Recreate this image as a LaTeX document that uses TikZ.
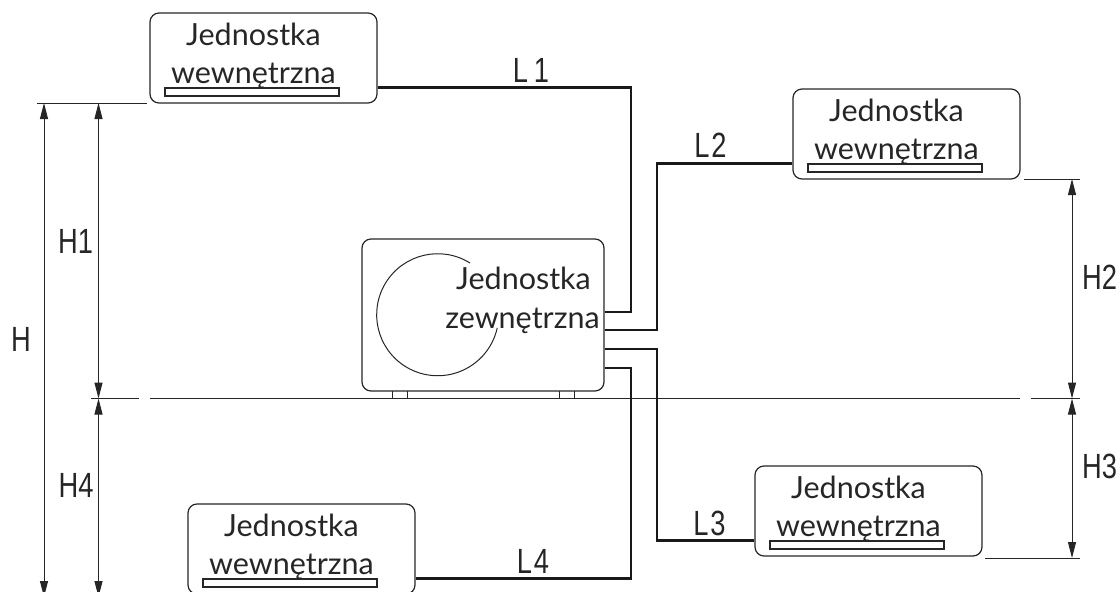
\documentclass[tikz,border=0pt]{standalone}
\usepackage{fontspec}
\usetikzlibrary{arrows.meta}
\setmainfont{Lato}
\newfontfamily\dimfont[FakeStretch=0.78]{Liberation Sans}
\tikzset{
  unitbox/.style={draw=black!85,line width=1.2pt,rounded corners=9pt,inner sep=0pt},
  panbox/.style={draw=black!85,line width=1.1pt,inner sep=0pt,minimum width=174pt,minimum height=8pt},
  unitlabel/.style={anchor=base,inner sep=0pt,font=\fontsize{30.5}{31}\selectfont,text=black!85},
  dimlabel/.style={anchor=base,inner sep=0pt,font=\dimfont\fontsize{35}{35}\selectfont,text=black!85},
  pipe/.style={line width=2.4pt,black!90},
  thinline/.style={line width=1pt,black!85},
  dimline/.style={thinline,{Triangle[length=16pt,width=8pt]}-{Triangle[length=16pt,width=8pt]}}
}
\begin{document}
\begin{tikzpicture}[x=1pt,y=-1pt]
  \useasboundingbox (0,0) rectangle (1120,592);
  \clip (0,0) rectangle (1120,592);
  % indoor units
  \foreach \nm/\x/\y in {1/150/13,2/793/89,3/755/466,4/188/504} {
    \node[unitbox,minimum width=227pt,minimum height=90pt] (wew\nm) at (\x+113.5,\y+45) {};
    \node[panbox] (pan\nm) at (\x+102,\y+79) {};
    \node[unitlabel] (jed\nm) at (\x+103.5,\y+32) {Jednostka};
    \node[unitlabel] (txt\nm) at (\x+103.5,\y+70) {wewnętrzna};
  }
  % outdoor unit
  \node[unitbox,minimum width=242pt,minimum height=152pt] (zew) at (483,315) {};
  \draw[thinline] (470,263) arc[start angle=-58,end angle=-347.6,radius=61];
  \node[unitlabel] (jedz) at (523.5,289) {Jednostka};
  \node[unitlabel] (txtz) at (522.5,328) {zewnętrzna};
  % ground
  \coordinate (gl) at (91,398.5);
  \coordinate (gr) at (1080,398.5);
  \draw[thinline] (gl) -- (139,398.5);
  \draw[thinline] (150,398.5) -- (1020,398.5);
  \draw[thinline] (1031,398.5) -- (gr);
  \foreach \x in {392,407,559,574} \draw[thinline] (\x,391) -- (\x,398);
  % pipes
  \coordinate (p1) at (631,312);
  \coordinate (p2) at (657,330);
  \coordinate (p3) at (657,349);
  \coordinate (p4) at (631,368);
  \draw[pipe] (zew.east |- p1) -- (p1) |- (wew1.east |- pan1.north);
  \draw[pipe] (zew.east |- p2) -- (p2) |- (wew2.west |- pan2.north);
  \draw[pipe] (zew.east |- p3) -- (p3) |- (wew3.west |- pan3.north);
  \draw[pipe] (zew.east |- p4) -- (p4) |- (wew4.east |- pan4.north);
  \node[dimlabel] (l1) at (531,82) {L\,1};
  \node[dimlabel] (l2) at (710.5,157) {L\kern2pt 2};
  \node[dimlabel] (l3) at (709.5,535) {L\kern2pt 3};
  \node[dimlabel] (l4) at (533,573) {L\kern2pt 4};
  % dimensions
  \coordinate (t1) at (37,103);
  \coordinate (t2) at (147,103);
  \draw[thinline] (t1) -- (t2);
  \coordinate (r2a) at (1024,179);
  \coordinate (r2b) at (1080,179);
  \draw[thinline] (r2a) -- (r2b);
  \coordinate (r3a) at (985,558);
  \coordinate (r3b) at (1080,558);
  \draw[thinline] (r3a) -- (r3b);
  \draw[dimline] (44,103) -- (44,597);
  \draw[dimline] (98.5,103) -- (98.5,398.5);
  \draw[dimline] (98.5,398.5) -- (98.5,597);
  \draw[dimline] (1072,179) -- (1072,398.5);
  \draw[dimline] (1072,398.5) -- (1072,558);
  \node[dimlabel] (h) at (21,351) {H};
  \node[dimlabel] (h1) at (75.5,253) {H1};
  \node[dimlabel] (h4) at (76,497) {H4};
  \node[dimlabel] (h2) at (1099.5,289) {H2};
  \node[dimlabel] (h3) at (1099.5,478) {H3};
\end{tikzpicture}
\end{document}
